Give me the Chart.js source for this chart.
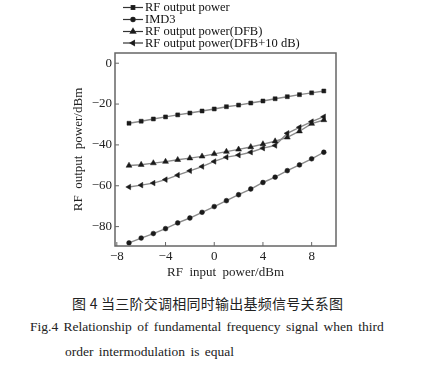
<!DOCTYPE html>
<html>
<head>
<meta charset="utf-8">
<script src="https://cdn.jsdelivr.net/npm/chart.js@4.4.1/dist/chart.umd.min.js"></script>
<style>
  body { margin: 0; background: #fff; width: 446px; height: 375px; overflow: hidden; position: relative; }
  #wrap { position: absolute; left: 0; top: 0; width: 446px; height: 280px; }
  .cap { position: absolute; white-space: nowrap; color: #222; }
  #capCn { left: 72px; top: 293px; font-family: "Noto Sans CJK SC", sans-serif; font-size: 14px; letter-spacing: 0.25px; font-weight: 400; }
  #capEn1 { left: 30px; top: 319px; font-family: "Liberation Serif", serif; font-size: 13.5px; word-spacing: 2px; }
  #capEn2 { left: 65px; top: 344px; font-family: "Liberation Serif", serif; font-size: 13.5px; word-spacing: 2px; }
</style>
</head>
<body>
<div id="wrap"><canvas id="chart"></canvas></div>
<div class="cap" id="capCn">图 4 当三阶交调相同时输出基频信号关系图</div>
<div class="cap" id="capEn1">Fig.4 Relationship of fundamental frequency signal when third</div>
<div class="cap" id="capEn2">order intermodulation is equal</div>
<script>
// input power (dBm)
const inputPower = [-7, -6, -5, -4, -3, -2, -1, 0, 1, 2, 3, 4, 5, 6, 7, 8, 9];

// measured series (dBm)
const rfOutput  = [-29.4, -28.4, -27.3, -26.3, -25.3, -24.4, -23.4, -22.4, -21.3, -20.5, -19.5, -18.5, -17.4, -16.4, -15.4, -14.5, -13.6];
const imd3      = [-88.0, -85.6, -83.4, -81.0, -78.2, -75.8, -73.0, -70.2, -67.3, -64.4, -61.6, -58.4, -55.8, -52.6, -49.8, -46.8, -43.6];
const rfDfb     = [-50.1, -49.7, -48.9, -48.2, -47.3, -46.5, -45.6, -44.4, -43.3, -42.2, -41.0, -39.6, -38.2, -36.3, -33.3, -29.6, -27.8];
const rfDfb10   = [-60.6, -59.7, -58.7, -57.0, -54.8, -52.7, -50.6, -48.1, -46.0, -45.0, -43.6, -41.6, -40.3, -34.3, -31.4, -28.6, -26.2];

const xTicks = [-8, -4, 0, 4, 8];
const yTicks = [-80, -60, -40, -20, 0];

const labels = ['RF output power', 'IMD3', 'RF output power(DFB)', 'RF output power(DFB+10 dB)'];

const serif = '"Liberation Serif", "Times New Roman", serif';
const lineColor = '#8a8a8a';
const markColor = '#1a1a1a';
const axisColor = '#666';

function series(label, values, style, rot, radius) {
  return {
    label: label,
    data: inputPower.map((x, i) => ({ x: x, y: values[i] })),
    borderColor: lineColor,
    borderWidth: 1.4,
    backgroundColor: markColor,
    pointBackgroundColor: markColor,
    pointBorderColor: markColor,
    pointBorderWidth: 0.5,
    pointStyle: style,
    pointRotation: rot,
    pointRadius: radius,
    tension: 0
  };
}

// frame, inward ticks and the stacked legend
const framePlugin = {
  id: 'frame',
  afterDraw(chart) {
    const ctx = chart.ctx;
    const a = chart.chartArea;
    const xs = chart.scales.x, ys = chart.scales.y;
    ctx.save();
    ctx.strokeStyle = axisColor;
    ctx.lineWidth = 1.5;
    ctx.strokeRect(a.left, a.top, a.right - a.left, a.bottom - a.top);
    ctx.lineWidth = 1;
    xTicks.forEach(v => {
      const px = xs.getPixelForValue(v);
      ctx.beginPath(); ctx.moveTo(px, a.bottom); ctx.lineTo(px, a.bottom - 4); ctx.stroke();
    });
    yTicks.forEach(v => {
      const py = ys.getPixelForValue(v);
      ctx.beginPath(); ctx.moveTo(a.left, py); ctx.lineTo(a.left + 4, py); ctx.stroke();
    });

    // legend
    const rows = [7.5, 19.5, 31.5, 43];
    chart.data.datasets.forEach((ds, i) => {
      const y = rows[i];
      ctx.strokeStyle = '#333';
      ctx.lineWidth = 1.2;
      ctx.beginPath(); ctx.moveTo(123, y); ctx.lineTo(143, y); ctx.stroke();
      ctx.fillStyle = markColor;
      Chart.helpers.drawPoint(ctx, {
        pointStyle: ds.pointStyle, rotation: ds.pointRotation,
        radius: ds.pointRadius * 0.9, borderWidth: 0.5
      }, 133, y);
      ctx.fill();
      ctx.fillStyle = '#111';
      ctx.font = '12.5px ' + serif;
      ctx.textBaseline = 'middle';
      ctx.textAlign = 'left';
      ctx.fillText(ds.label, 145, y + 0.5);
    });
    ctx.restore();
  }
};

new Chart(document.getElementById('chart'), {
  type: 'line',
  data: {
    datasets: [
      series(labels[0], rfOutput, 'rect', 0, 2.8),
      series(labels[1], imd3, 'circle', 0, 2.4),
      series(labels[2], rfDfb, 'triangle', 0, 3.4),
      series(labels[3], rfDfb10, 'triangle', -90, 3.2)
    ]
  },
  options: {
    responsive: true,
    maintainAspectRatio: false,
    animation: false,
    layout: { padding: { left: 71, right: 110, top: 53, bottom: 0 } },
    plugins: { legend: { display: false }, tooltip: { enabled: false } },
    scales: {
      x: {
        type: 'linear',
        min: -8.15,
        max: 10,
        afterBuildTicks(s) { s.ticks = xTicks.map(v => ({ value: v })); },
        afterFit(s) { s.height = 34; },
        grid: { display: false, drawTicks: false },
        border: { display: false },
        ticks: {
          color: '#222', padding: 3,
          font: { family: serif, size: 13 },
          callback: v => (v < 0 ? '\u2212' + Math.abs(v) : String(v))
        },
        title: { display: true, text: 'RF  input  power/dBm', color: '#222', padding: 0, font: { family: serif, size: 13 } }
      },
      y: {
        type: 'linear',
        min: -89.5,
        max: 5,
        afterBuildTicks(s) { s.ticks = yTicks.map(v => ({ value: v })); },
        afterFit(s) { s.width = 44; },
        grid: { display: false, drawTicks: false },
        border: { display: false },
        ticks: {
          color: '#222', padding: 3,
          font: { family: serif, size: 13 },
          callback: v => (v < 0 ? '\u2212' + Math.abs(v) : String(v))
        },
        title: { display: true, text: 'RF  output  power/dBm', color: '#222', padding: 0, font: { family: serif, size: 13 } }
      }
    }
  },
  plugins: [framePlugin]
});
</script>
</body>
</html>
